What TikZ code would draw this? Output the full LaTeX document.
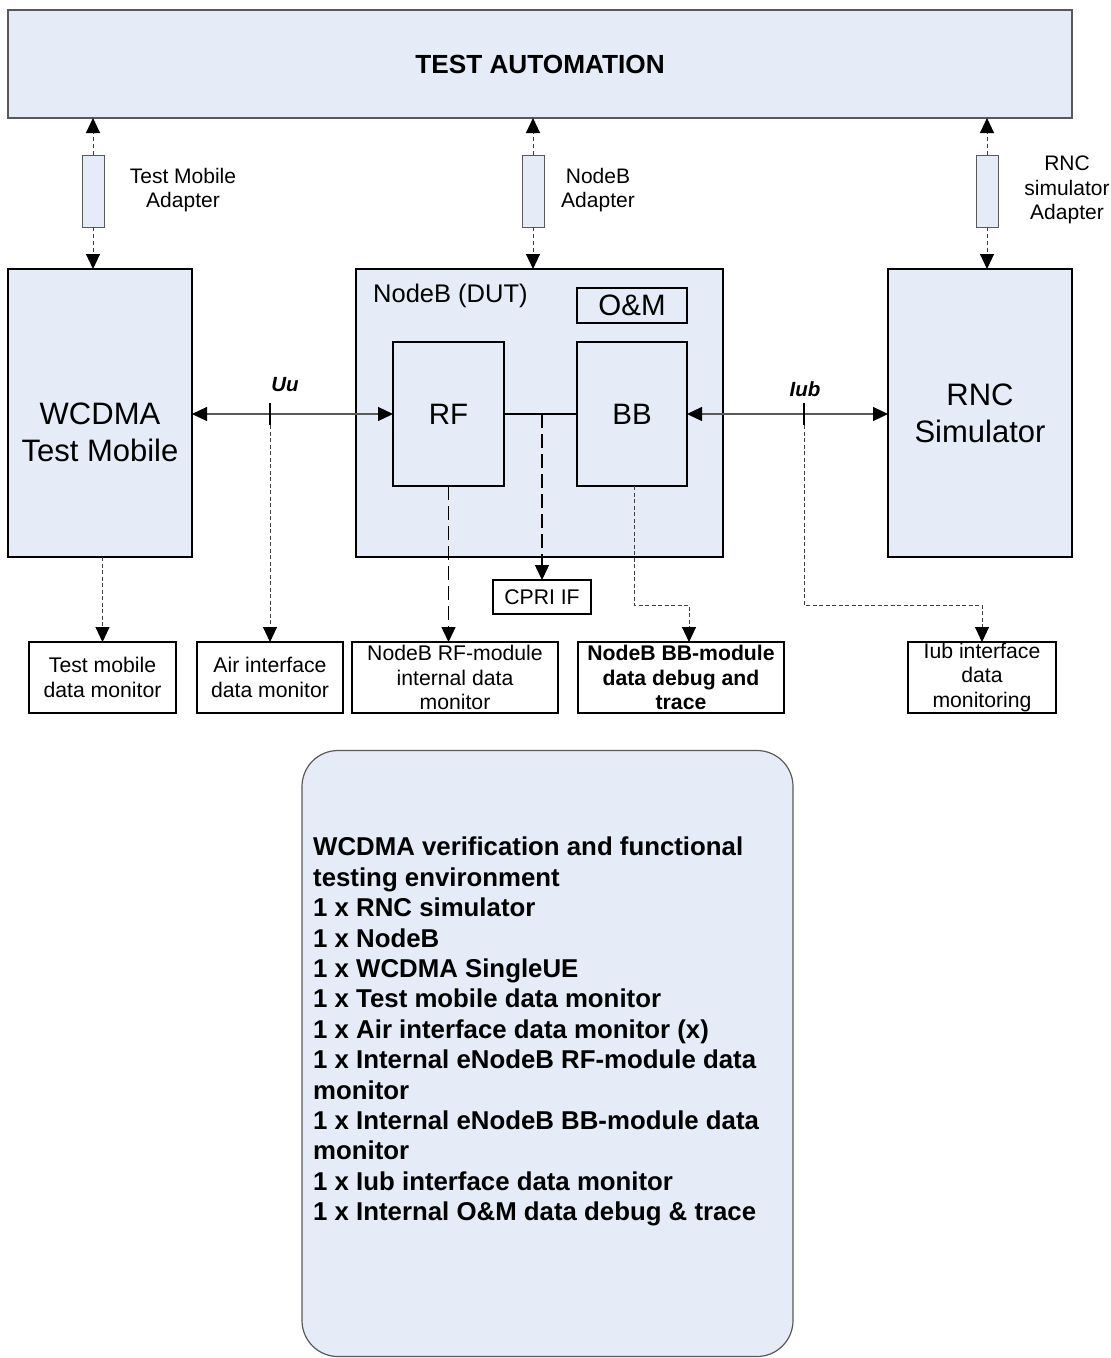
\documentclass[tikz,border=0pt]{standalone}
\usepackage{fontspec}
\setmainfont{Liberation Sans}
\usetikzlibrary{arrows.meta}
\definecolor{boxfill}{HTML}{E5ECF7}
\definecolor{edgegray}{HTML}{595959}
\definecolor{dashgray}{HTML}{404040}
\newcommand\setfs[2]{\fontsize{#1}{#2}\selectfont}
\begin{document}
\begin{tikzpicture}[x=1pt,y=-1pt,
  >={Triangle[length=15pt,width=14pt,color=black,fill=black]},
  box/.style={draw=black, line width=1.6pt, fill=boxfill, inner sep=0pt, outer sep=0pt},
  topbox/.style={draw=edgegray, line width=1.2pt, fill=boxfill, inner sep=0pt, outer sep=0pt},
  adbox/.style={draw=edgegray, line width=1pt, fill=boxfill, inner sep=0pt, outer sep=0pt, minimum width=22pt, minimum height=72pt},
  monbox/.style={draw=black, line width=1.4pt, fill=white, inner sep=0pt, outer sep=0pt, minimum height=71pt, align=center, font={\setfs{21.2}{24.5}}},
  small/.style={inner sep=0pt, align=center, font={\setfs{21}{24.5}}},
  big/.style={inner sep=0pt, align=center, font={\setfs{31}{37}}},
  adline/.style={draw=dashgray, line width=1pt, dash pattern=on 4pt off 3pt},
  fine/.style={draw=dashgray, line width=0.9pt, dash pattern=on 4pt off 2.5pt},
  longdash/.style={draw=black, line width=1.5pt, dash pattern=on 14pt off 6pt},
  hline/.style={draw=edgegray, line width=1.2pt},
  tickline/.style={draw=black, line width=1.6pt},
  ifl/.style={inner sep=0pt, font={\setfs{20.5}{24}\bfseries\itshape}}
]
\useasboundingbox (0,0) rectangle (1111,1358);

% top
\node[topbox, minimum width=1064pt, minimum height=108pt] (top) at (540,64) {};
\node[inner sep=0pt, font={\setfs{26.2}{30}\bfseries}] (toptxt) at (540,64) {TEST AUTOMATION};

% adapters
\node[adbox] (ad1) at (93,191) {};
\node[adbox] (ad2) at (533,191) {};
\node[adbox] (ad3) at (987,191) {};
\node[small] (lab1) at (183,190) {Test Mobile\\Adapter};
\node[small] (lab2) at (598,190) {NodeB\\Adapter};
\node[small] (lab3) at (1067,190) {RNC\\simulator\\Adapter};

% main boxes
\node[box, minimum width=184pt, minimum height=288pt] (tm) at (100,413) {};
\node[big] (tmtxt) at (100,432) {WCDMA\\Test Mobile};
\node[box, minimum width=367pt, minimum height=288pt] (nb) at (539.5,413) {};
\node[inner sep=0pt, anchor=west, font={\setfs{25.5}{30}}] (nbtxt) at (373,296) {NodeB (DUT)};
\node[box, minimum width=184pt, minimum height=288pt] (rnc) at (980,413) {};
\node[big] (rnctxt) at (980,413) {RNC\\Simulator};

\node[box, minimum width=110pt, minimum height=35pt, font={\setfs{29.5}{34}}] (om) at (632,305.5) {O\&M};
\node[box, minimum width=111pt, minimum height=144pt, font={\setfs{29.5}{34}}] (rf) at (448.5,414) {RF};
\node[box, minimum width=110pt, minimum height=144pt, font={\setfs{29.5}{34}}] (bb) at (632,414) {BB};
\node[monbox, minimum width=98pt, minimum height=34pt] (cpri) at (542,597) {CPRI IF};

% monitors
\node[monbox, minimum width=147pt] (tmon) at (102.5,677.5) {Test mobile\\data monitor};
\node[monbox, minimum width=146pt] (air) at (270,677.5) {Air interface\\data monitor};
\node[monbox, minimum width=206pt] (rfmon) at (455,677.5) {NodeB RF-module\\internal data\\monitor};
\node[monbox, minimum width=206pt, font={\setfs{21.2}{24.5}\bfseries}] (bbmon) at (681,677.5) {NodeB BB-module\\data debug and\\trace};
\node[monbox, minimum width=148pt] (iubmon) at (982,677.5) {Iub interface\\data\\monitoring};

% environment box
\node[draw=edgegray, line width=1.2pt, fill=boxfill, rounded corners=36pt, minimum width=491pt, minimum height=606pt, inner sep=0pt] (env) at (547.5,1053.5) {};
\node[anchor=north west, inner sep=0pt, align=left, font={\setfs{25.8}{30.4}\bfseries}] (envtxt) at (313,837) {WCDMA verification and functional\\testing environment\\1 x RNC simulator\\1 x NodeB\\1 x WCDMA SingleUE\\1 x Test mobile data monitor\\1 x Air interface data monitor (x)\\1 x Internal eNodeB RF-module data\\monitor\\1 x Internal eNodeB BB-module data\\monitor\\1 x Iub interface data monitor\\1 x Internal O\&M data debug \& trace};

% adapter connectors
\foreach \a/\b in {ad1/tm, ad2/nb, ad3/rnc} {
  \draw[adline,->] (\a.north) -- (\a.north |- top.south);
  \draw[adline,->] (\a.south) -- (\a.south |- \b.north);
}

% Uu
\draw[hline,<->] (rf.west -| tm.east) -- (rf.west);
\coordinate (uutop) at (270,403);
\coordinate (uubot) at (270,425);
\draw[tickline] (uutop) -- (uubot);
\node[ifl] (uulab) at (285,385) {Uu};
\draw[fine,->] (uubot) -- (air.north);

% Iub
\draw[hline,<->] (bb.east) -- (bb.east -| rnc.west);
\coordinate (iubtop) at (804,403);
\coordinate (iubbot) at (804,425);
\coordinate (iubelb) at (804,605);
\draw[tickline] (iubtop) -- (iubbot);
\node[ifl] (iublab) at (805,389) {Iub};
\draw[fine,->] (iubbot) -- (iubelb) -| (iubmon.north);

% NodeB internals
\draw[line width=1.6pt] (rf.east) -- (bb.west);
\coordinate (cprijoin) at (542,414);
\draw[longdash,->] (cprijoin) -- (cpri.north);
\draw[longdash,->] (rf.south) -- (rf.south |- rfmon.north);
\coordinate (bbout) at (634,486);
\coordinate (bbelb) at (634,605);
\coordinate (bbin) at (689,642);
\draw[fine,->] (bbout) -- (bbelb) -| (bbin);

% test mobile monitor
\draw[fine,->] (tm.south -| tmon.north) -- (tmon.north);
\end{tikzpicture}
\end{document}
